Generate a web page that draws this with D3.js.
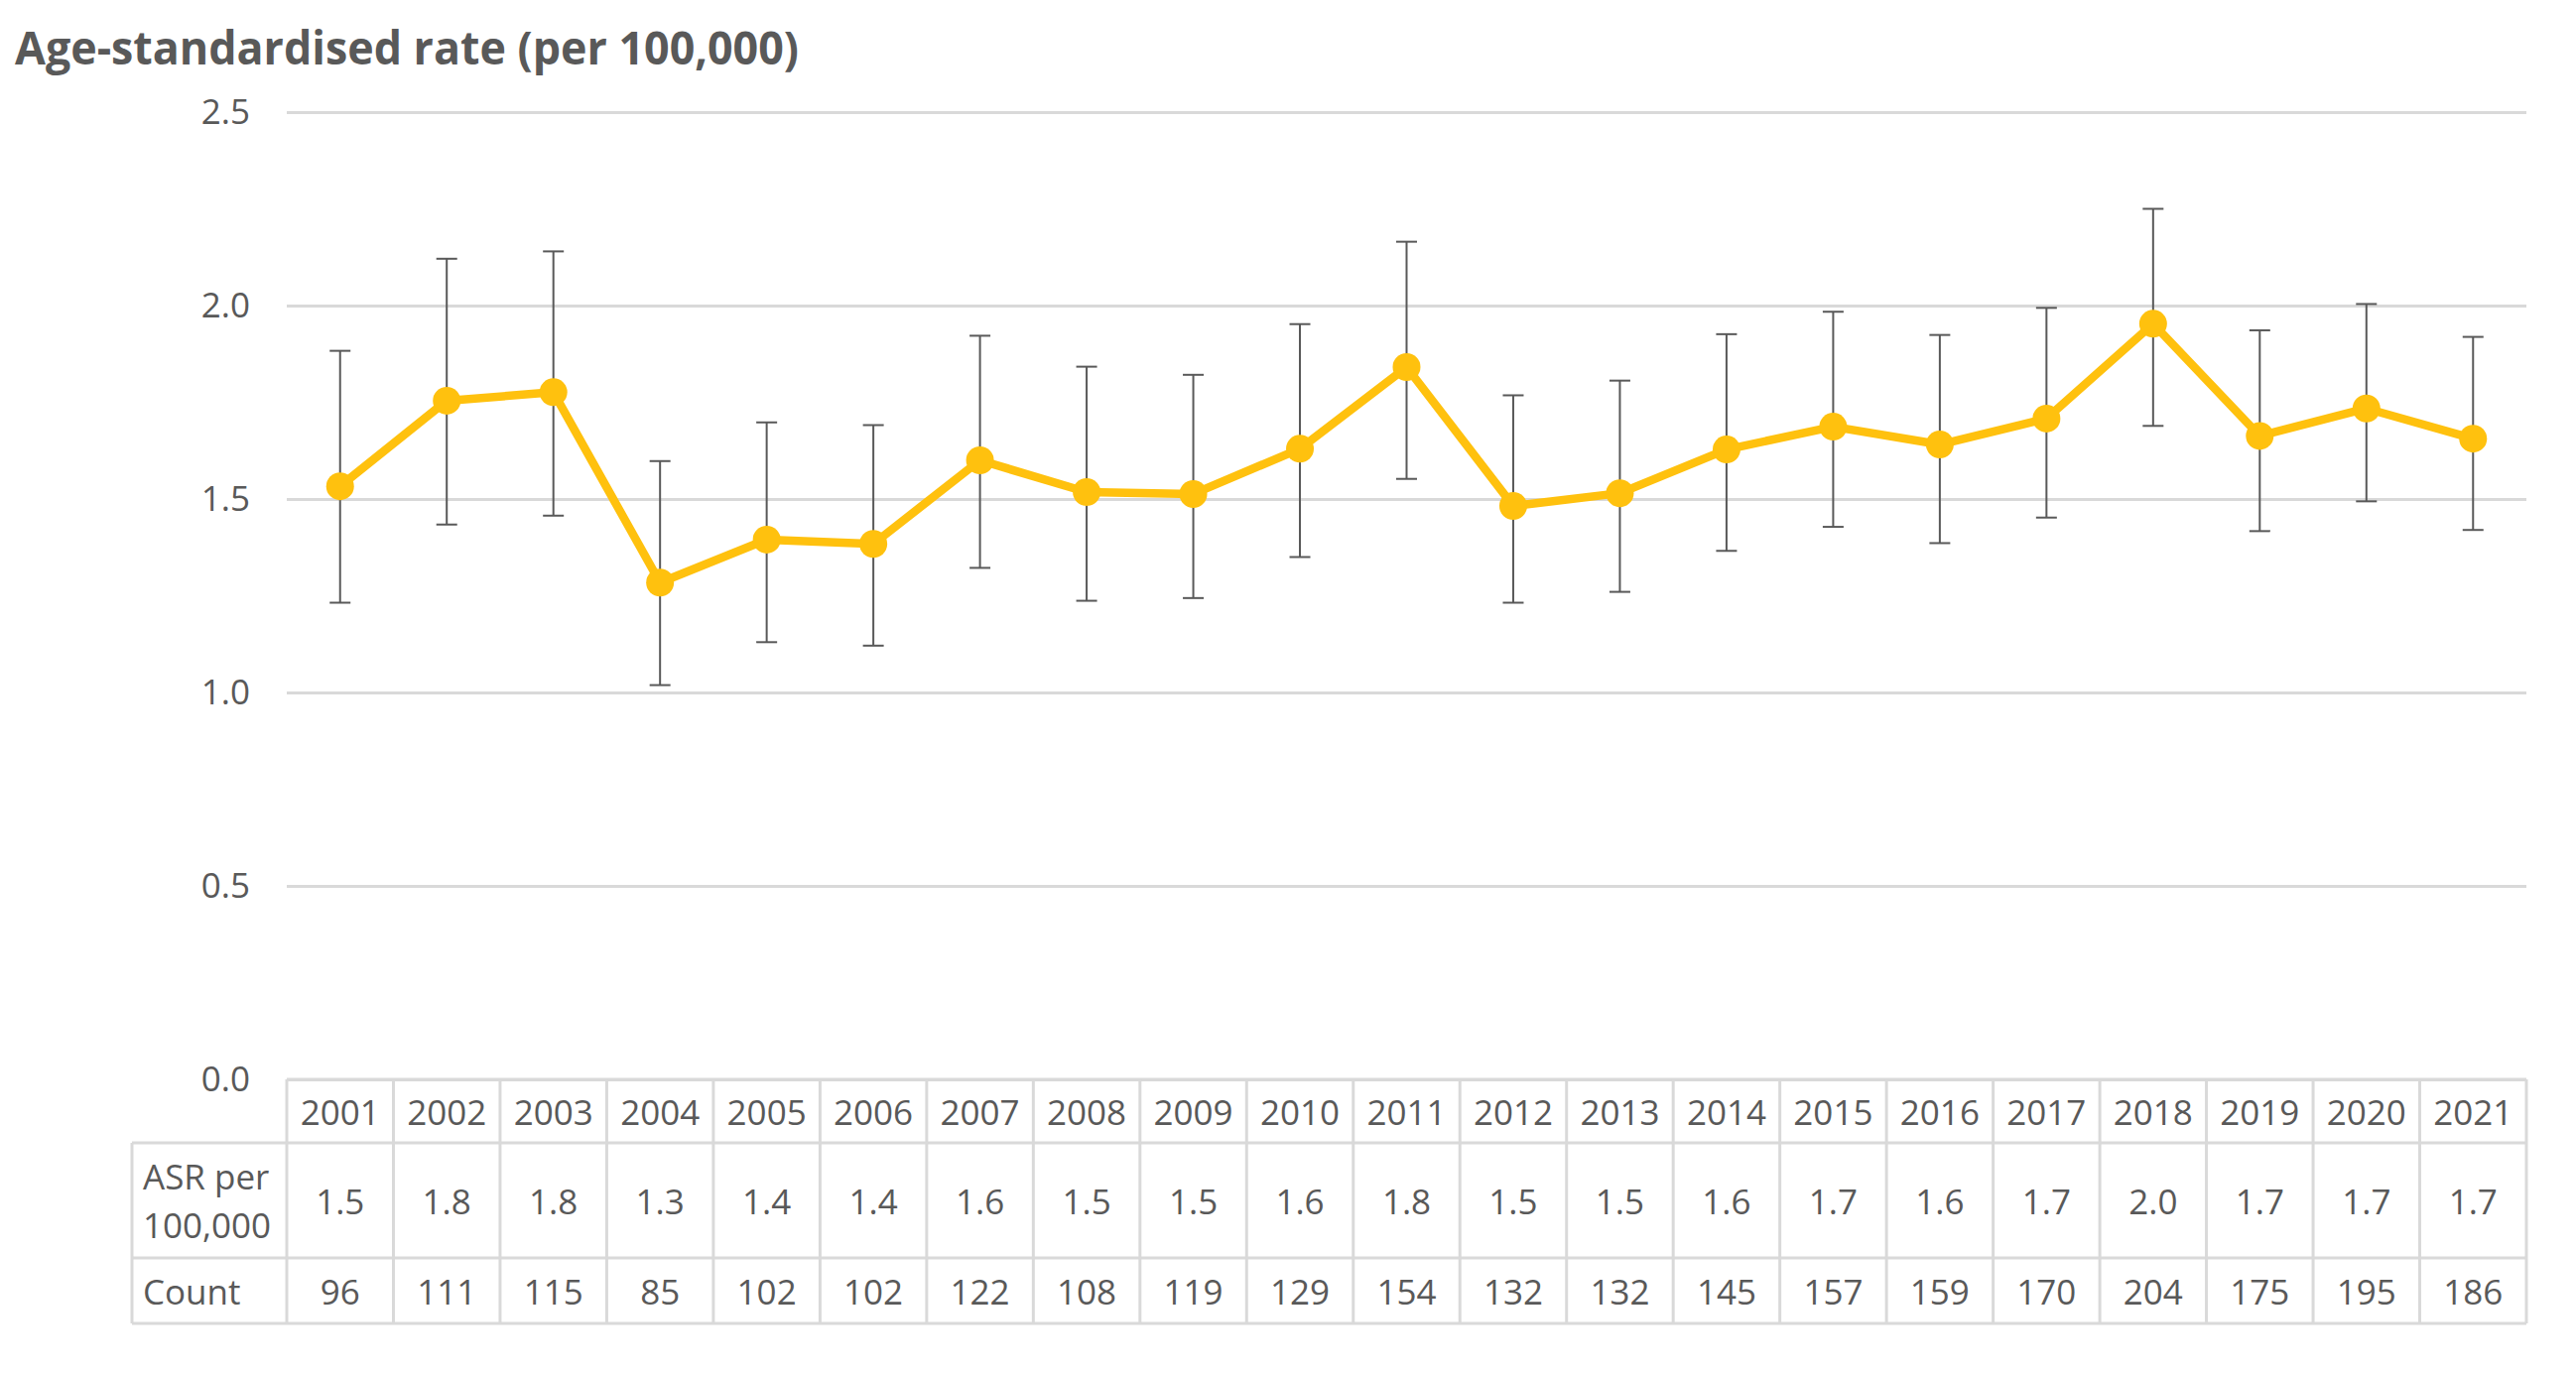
<!DOCTYPE html>
<html>
<head>
<meta charset="utf-8">
<script src="https://cdn.jsdelivr.net/npm/d3@7"></script>
<style>
    body { margin: 0; background: #fff; }
    #chart text { font-family: 'Open Sans', sans-serif; fill: #595959; }
</style>
</head>
<body>
<div id="chart"></div>
<script>
// Data
const years = ['2001', '2002', '2003', '2004', '2005', '2006', '2007', '2008', '2009', '2010', '2011',
    '2012', '2013', '2014', '2015', '2016', '2017', '2018', '2019', '2020', '2021'];
const rates = [1.533, 1.754, 1.776, 1.284, 1.395, 1.384, 1.600, 1.518, 1.513, 1.630, 1.841,
    1.482, 1.515, 1.628, 1.687, 1.641, 1.708, 1.953, 1.663, 1.734, 1.656];
const lowerCI = [1.232, 1.434, 1.457, 1.019, 1.130, 1.121, 1.322, 1.237, 1.244, 1.350, 1.552,
    1.232, 1.260, 1.366, 1.428, 1.386, 1.452, 1.689, 1.417, 1.494, 1.420];
const upperCI = [1.883, 2.121, 2.140, 1.598, 1.698, 1.691, 1.922, 1.842, 1.821, 1.952, 2.165,
    1.768, 1.806, 1.926, 1.984, 1.924, 1.994, 2.250, 1.936, 2.004, 1.919];
const asrLabels = ['1.5', '1.8', '1.8', '1.3', '1.4', '1.4', '1.6', '1.5', '1.5', '1.6', '1.8',
    '1.5', '1.5', '1.6', '1.7', '1.6', '1.7', '2.0', '1.7', '1.7', '1.7'];
const counts = [96, 111, 115, 85, 102, 102, 122, 108, 119, 129, 154, 132, 132, 145, 157, 159, 170, 204, 175, 195, 186];
const yTicks = [0, 0.5, 1.0, 1.5, 2.0, 2.5];
const titleText = 'Age-standardised rate (per 100,000)';
const rowLabels = [['ASR per', '100,000'], ['Count']];

const W = 2596, H = 1386;
const plot = { left: 289, right: 2546, top: 113, bottom: 1088 };
const rowEdges = [1088, 1152, 1268, 1334];   // header, ASR row, Count row
const labelLeft = 133;
const gold = '#FFC10E', grey = '#595959', rule = '#D9D9D9';

const data = years.map((y, i) => ({ year: y, rate: rates[i], lo: lowerCI[i], hi: upperCI[i] }));

const svg = d3.select('#chart')
    .append('svg')
    .attr('width', W)
    .attr('height', H);

const x = d3.scaleBand().domain(years).range([plot.left, plot.right]);
const y = d3.scaleLinear().domain([0, 2.5]).range([plot.bottom, plot.top]);

// Title
svg.append('text')
    .attr('x', 15)
    .attr('y', 65)
    .attr('textLength', 790)
    .attr('lengthAdjust', 'spacingAndGlyphs')
    .style('font-size', '46px')
    .style('font-weight', 'bold')
    .text(titleText);

// Grid lines
svg.append('g')
    .attr('transform', `translate(${plot.left},0)`)
    .call(d3.axisLeft(y).tickValues(yTicks).tickSize(-(plot.right - plot.left)).tickFormat(''))
    .call(g => g.select('.domain').remove())
    .call(g => g.selectAll('.tick line').attr('stroke', rule).attr('stroke-width', 3));

// Y axis labels
svg.append('g')
    .attr('transform', `translate(${plot.left},0)`)
    .call(d3.axisLeft(y).tickValues(yTicks).tickSize(0).tickPadding(37).tickFormat(d3.format('.1f')))
    .call(g => g.select('.domain').remove())
    .call(g => g.selectAll('.tick text').style('font-size', '35px').attr('fill', grey));

// Error bars
const capW = 10.5;
const err = svg.append('g')
    .attr('stroke', grey)
    .attr('stroke-width', 2)
    .selectAll('g')
    .data(data)
    .enter()
    .append('g')
    .attr('transform', d => `translate(${x(d.year) + x.bandwidth() / 2},0)`);
err.append('line').attr('y1', d => y(d.lo)).attr('y2', d => y(d.hi));
err.append('line').attr('x1', -capW).attr('x2', capW).attr('y1', d => y(d.hi)).attr('y2', d => y(d.hi));
err.append('line').attr('x1', -capW).attr('x2', capW).attr('y1', d => y(d.lo)).attr('y2', d => y(d.lo));

// Line and markers
svg.append('path')
    .datum(data)
    .attr('fill', 'none')
    .attr('stroke', gold)
    .attr('stroke-width', 8.5)
    .attr('stroke-linejoin', 'round')
    .attr('d', d3.line().x(d => x(d.year) + x.bandwidth() / 2).y(d => y(d.rate)));

svg.selectAll('circle.pt')
    .data(data)
    .enter()
    .append('circle')
    .attr('class', 'pt')
    .attr('cx', d => x(d.year) + x.bandwidth() / 2)
    .attr('cy', d => y(d.rate))
    .attr('r', 14)
    .attr('fill', gold);

// Data table
const table = svg.append('g').attr('class', 'table');
const bounds = years.map(yr => x(yr)).concat([plot.right]);

table.append('g')
    .attr('stroke', rule)
    .attr('stroke-width', 3)
    .call(g => {
        g.append('line').attr('x1', plot.left).attr('x2', plot.right).attr('y1', rowEdges[0]).attr('y2', rowEdges[0]);
        rowEdges.slice(1).forEach(e => g.append('line').attr('x1', labelLeft).attr('x2', plot.right).attr('y1', e).attr('y2', e));
        g.append('line').attr('x1', labelLeft).attr('x2', labelLeft).attr('y1', rowEdges[1]).attr('y2', rowEdges[3]);
        bounds.forEach(b => g.append('line').attr('x1', b).attr('x2', b).attr('y1', rowEdges[0]).attr('y2', rowEdges[3]));
    });

const rows = [years, asrLabels, counts];
rows.forEach((vals, r) => {
    const mid = (rowEdges[r] + rowEdges[r + 1]) / 2;
    table.selectAll(`text.r${r}`)
        .data(vals)
        .enter()
        .append('text')
        .attr('class', `r${r}`)
        .attr('x', (d, i) => x(years[i]) + x.bandwidth() / 2)
        .attr('y', mid)
        .attr('text-anchor', 'middle')
        .attr('dominant-baseline', 'central')
        .style('font-size', '35px')
        .text(d => d);
});

// Row labels
rowLabels.forEach((lines, r) => {
    const mid = (rowEdges[r + 1] + rowEdges[r + 2]) / 2;
    const step = 49;
    lines.forEach((t, k) => {
        table.append('text')
            .attr('x', 144)
            .attr('y', mid + (k - (lines.length - 1) / 2) * step)
            .attr('dominant-baseline', 'central')
            .style('font-size', '35px')
            .text(t);
    });
});
</script>
</body>
</html>
